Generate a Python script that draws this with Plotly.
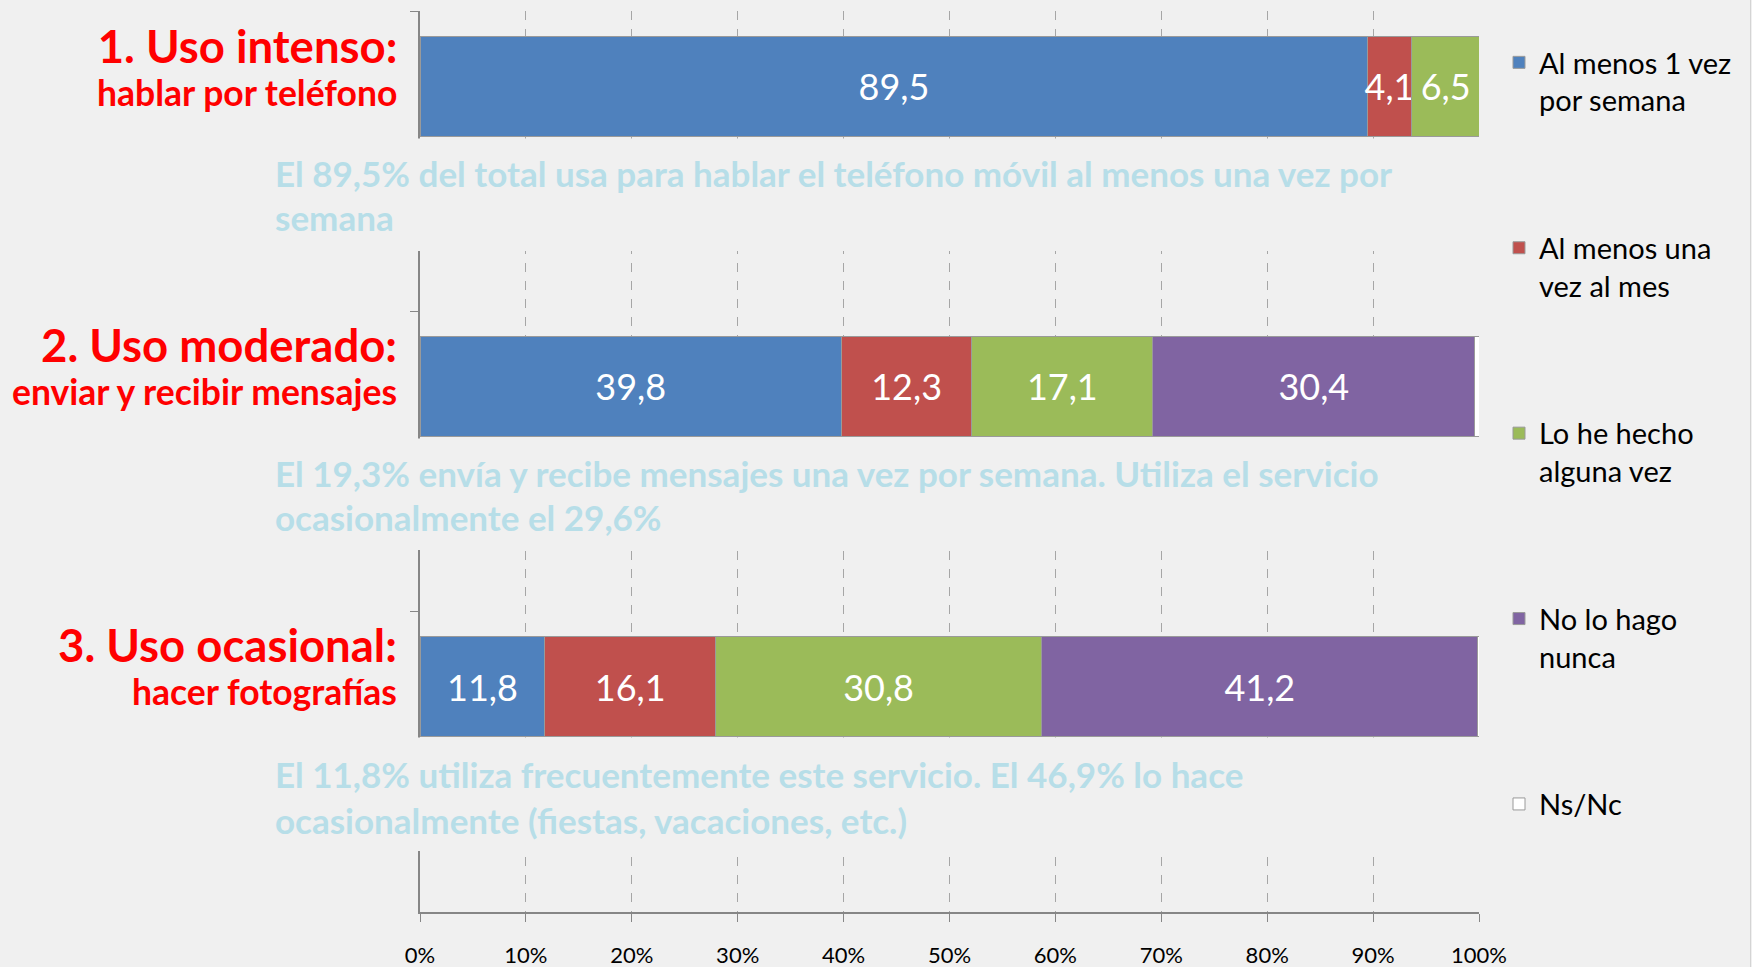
import plotly.graph_objects as go

# ---------------- data ----------------
categories = ["c1", "gap1", "c2", "gap2", "c3", "gap3"]
series_names = ["Al menos 1 vez<br>por semana", "Al menos una<br>vez al mes",
                "Lo he hecho<br>alguna vez", "No lo hago<br>nunca", "Ns/Nc"]
semanal = [89.5, None, 39.8, None, 11.8, None]
mensual = [4.1, None, 12.3, None, 16.1, None]
alguna_vez = [6.5, None, 17.1, None, 30.8, None]
nunca = [None, None, 30.4, None, 41.2, None]
ns_nc = [None, None, 0.4, None, 0.1, None]
series_values = [semanal, mensual, alguna_vez, nunca, ns_nc]
series_colors = ["#4F81BD", "#C0504D", "#9BBB59", "#8064A2", "#FFFFFF"]

tick_vals = [0, 10, 20, 30, 40, 50, 60, 70, 80, 90, 100]
tick_text = ["0%", "10%", "20%", "30%", "40%", "50%", "60%", "70%", "80%", "90%", "100%"]

titles_big = ["1. Uso intenso:", "2. Uso moderado:", "3. Uso ocasional:"]
titles_small = ["hablar por teléfono", "enviar y recibir mensajes", "hacer fotografías"]
notes = [
    ["El 89,5% del total usa para hablar el teléfono móvil al menos una vez por", "semana"],
    ["El 19,3% envía y recibe mensajes una vez por semana. Utiliza el servicio", "ocasionalmente el 29,6%"],
    ["El 11,8% utiliza frecuentemente este servicio. El 46,9% lo hace", "ocasionalmente (fiestas, vacaciones, etc.)"],
]

# ---------------- layout geometry ----------------
W, H = 1752, 967
ML, MR, MT, MB = 420, 273, 11, 55
PW, PH = W - ML - MR, H - MT - MB


def px_x(px):
    return (px - ML) / PW


def px_y(py):
    return 1 - (py - MT) / PH


BG = "#F0F0F0"
FONT = "Lato"

fig = go.Figure()
for name, vals, col in zip(series_names, series_values, series_colors):
    is_ns = name == "Ns/Nc"
    fig.add_trace(go.Bar(
        y=categories, x=vals, name=name, orientation="h",
        legendgroup=name,
        marker=dict(color=col, line=dict(color="#9A9A9A", width=1)),
        texttemplate="" if is_ns else "%{x:.1f}",
        textposition="inside", insidetextanchor="middle",
        constraintext="none", textangle=0,
        textfont=dict(color="white", size=36, family=FONT),
        hoverinfo="skip",
    ))

shapes = []
# boxes covering the gaps between bars (as in the original text boxes)
for y0, y1 in [(138.5, 251), (438.5, 550), (737.5, 851)]:
    shapes.append(dict(type="rect", xref="paper", yref="paper",
                       x0=px_x(240), x1=px_x(1471), y0=px_y(y1), y1=px_y(y0),
                       fillcolor=BG, line=dict(width=0), layer="above"))
# thin slide border at the right edge
shapes.append(dict(type="line", xref="paper", yref="paper",
                   x0=px_x(1750.5), x1=px_x(1750.5), y0=px_y(H + 5), y1=px_y(-5),
                   line=dict(color="#D4D4D4", width=1), layer="above"))

annotations = []
# two-line red titles: big first line, smaller second line (one text block each)
title_top = [16, 315, 615]
for tb, ts, yt in zip(titles_big, titles_small, title_top):
    annotations.append(dict(
        text=f"<b><span style='font-size:45.5px'>{tb}</span><br>"
             f"<span style='font-size:35.5px'>{ts}</span></b>",
        xref="paper", yref="paper", x=px_x(399), y=px_y(yt),
        xanchor="right", yanchor="top", align="right",
        showarrow=False, font=dict(size=33, color="#FF0000", family=FONT)))

note_y = [(173, 217), (473, 517), (774, 820)]
for lines, ys in zip(notes, note_y):
    for line, yy in zip(lines, ys):
        annotations.append(dict(text=f"<b>{line}</b>", xref="paper", yref="paper",
                                x=px_x(273), y=px_y(yy), xanchor="left", yanchor="middle",
                                showarrow=False, font=dict(size=35, color="#B7DEE8", family=FONT)))

fig.update_layout(
    width=W, height=H,
    margin=dict(l=ML, r=MR, t=MT, b=MB, pad=0, autoexpand=False),
    paper_bgcolor=BG, plot_bgcolor=BG,
    barmode="stack", bargap=1/3,
    separators=",.",
    font=dict(family=FONT, color="#000000"),
    showlegend=True,
    legend=dict(x=px_x(1499), y=px_y(37), xanchor="left", yanchor="top",
                font=dict(size=29, color="#000000", family=FONT),
                tracegroupgap=107, valign="top", bgcolor="rgba(0,0,0,0)",
                itemclick=False),
    xaxis=dict(range=[0, 100], tickvals=tick_vals, ticktext=tick_text,
               showgrid=True, gridcolor="#A6A6A6", griddash="dash", gridwidth=1,
               showline=True, linecolor="#868686", linewidth=2,
               ticks="outside", ticklen=8, tickcolor="#868686", tickwidth=1,
               ticklabelstandoff=15, zeroline=False, automargin=False,
               tickfont=dict(size=22, color="#000000", family=FONT), fixedrange=True),
    yaxis=dict(type="category", categoryorder="array", categoryarray=categories,
               autorange="reversed", showgrid=False, showticklabels=False,
               showline=True, linecolor="#868686", linewidth=2,
               ticks="outside", tickson="boundaries", ticklen=8, automargin=False,
               tickcolor="#868686", tickwidth=1, zeroline=False, fixedrange=True),
    shapes=shapes, annotations=annotations,
)

fig.write_html("out.html", config={"displayModeBar": False},
               post_script="document.body.style.margin='0';document.body.style.overflow='hidden';")
